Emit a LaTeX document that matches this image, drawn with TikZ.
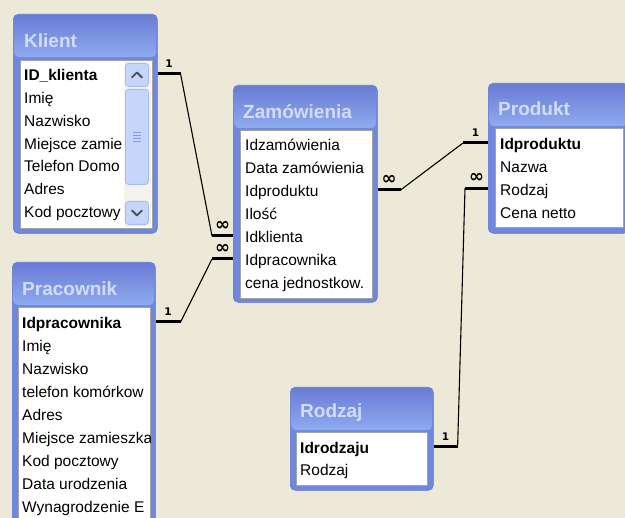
\documentclass[tikz,border=0pt]{standalone}
\usepackage{fontspec}
\setmainfont{Liberation Sans}
\newfontfamily\cardfont{DejaVu Sans}
\usetikzlibrary{positioning, calc}

\definecolor{xpbg}{HTML}{ECE9D8}
\definecolor{xpframe}{HTML}{6F87DD}
\definecolor{xpedge}{HTML}{5E74CF}
\definecolor{xptitletop}{HTML}{6A7CD6}
\definecolor{xptitlebot}{HTML}{8EABEF}
\definecolor{xptitletext}{HTML}{D3DCF6}
\definecolor{xplistedge}{HTML}{A3A2A6}
\definecolor{xpbutton}{HTML}{C6D6FB}
\definecolor{xpbuttonedge}{HTML}{A5BCF2}
\definecolor{xptrack}{HTML}{F4F3EE}

\begin{document}
\begin{tikzpicture}[
    x=1pt, y=-1pt,
    % Styles
    box/.style={ % Table window
        rectangle,
        anchor=north west,
        rounded corners=5pt,
        fill=xpframe,
        draw=xpedge,
        line width=0.6pt,
        inner sep=0pt
    },
    titlebar/.style={ % Window title band
        rectangle,
        anchor=north west,
        rounded corners=5pt,
        top color=xptitletop,
        bottom color=xptitlebot,
        minimum height=42pt,
        inner sep=0pt
    },
    tabletitle/.style={
        anchor=west,
        inner sep=0pt,
        text=xptitletext,
        font=\fontsize{19}{22}\selectfont\bfseries
    },
    list/.style={ % White field list
        rectangle,
        anchor=north west,
        fill=white,
        draw=xplistedge,
        line width=1pt,
        inner sep=0pt
    },
    field/.style={
        anchor=west,
        inner sep=0pt,
        text height=11pt,
        text depth=3pt,
        font=\fontsize{15.5}{18}\selectfont
    },
    keyfield/.style={
        field,
        font=\fontsize{15.5}{18}\selectfont\bfseries
    },
    button/.style={ % Scrollbar parts
        rectangle,
        anchor=north west,
        rounded corners=3pt,
        fill=xpbutton,
        draw=xpbuttonedge,
        line width=0.8pt,
        inner sep=0pt
    },
    chevron/.style={
        draw=black!70,
        line width=1.8pt,
        line cap=round,
        line join=round
    },
    stub/.style={ % Thick end of a relation
        line width=3pt
    },
    link/.style={
        line width=1.1pt
    },
    one/.style={
        inner sep=0pt,
        text height=7.5pt,
        text depth=0pt,
        font=\cardfont\fontsize{10.5}{11}\selectfont\bfseries
    },
    many/.style={
        inner sep=0pt,
        text height=6pt,
        text depth=0pt,
        font=\cardfont\fontsize{18}{19}\selectfont\bfseries
    }
]

    % Background
    \path [use as bounding box, fill=xpbg] (0,0) rectangle (625,518);
    \clip (0,0) rectangle (625,518);

    % Klient
    \node at (13,14) [box, minimum width=144pt, minimum height=219pt] (klient_box) {};
    \node at (14,15) [titlebar, minimum width=142pt] (klient_bar) {};
    \node at (24,41) [tabletitle] (klient_title) {Klient};
    \node at (20,60) [list, minimum width=132pt, minimum height=168pt] (klient_list) {};
    \begin{scope}
        \clip (20,60) rectangle (124,228);
        \node at (24,77) [keyfield] (klient_1) {ID\_klienta};
        \foreach \f [count=\i from 2] in {Imię, Nazwisko, Miejsce zamie, Telefon Domo, Adres, Kod pocztowy}
            \node at (24, {77+22.7*(\i-1)}) [field] (klient_\i) {\f};
    \end{scope}

    % Klient scrollbar
    \fill [xptrack] (124,61) rectangle (151,227);
    \node at (125,63) [button, minimum width=23pt, minimum height=23pt] (klient_up) {};
    \node at (125,89) [button, minimum width=23pt, minimum height=95pt] (klient_thumb) {};
    \node at (125,201) [button, minimum width=23pt, minimum height=23pt] (klient_down) {};
    \draw [chevron] ($(klient_up.center)+(-5,2.5)$) -- ++(5,-5) -- ++(5,5);
    \draw [chevron] ($(klient_down.center)+(-5,-2.5)$) -- ++(5,5) -- ++(5,-5);
    \foreach \g in {-4.5,-1.5,1.5,4.5}
        \draw [xpbuttonedge!80!blue, line width=0.8pt] ($(klient_thumb.center)+(-4,\g)$) -- ++(8,0);

    % Zamowienia
    \node at (233,85) [box, minimum width=144pt, minimum height=217pt] (zam_box) {};
    \node at (234,86) [titlebar, minimum width=142pt] (zam_bar) {};
    \node at (243,112) [tabletitle] (zam_title) {Zamówienia};
    \node at (240,130) [list, minimum width=132pt, minimum height=168pt] (zam_list) {};
    \begin{scope}
        \clip (240,130) rectangle (372,298);
        \foreach \f [count=\i] in {Idzamówienia, Data zamówienia, Idproduktu, Ilość, Idklienta, Idpracownika, cena jednostkow.}
            \node at (245, {147+23*(\i-1)}) [field] (zam_\i) {\f};
    \end{scope}

    % Produkt
    \node at (488,83) [box, minimum width=140pt, minimum height=150pt] (produkt_box) {};
    \node at (489,84) [titlebar, minimum width=138pt] (produkt_bar) {};
    \node at (498,109) [tabletitle] (produkt_title) {Produkt};
    \node at (495,128) [list, minimum width=128pt, minimum height=99pt] (produkt_list) {};
    \begin{scope}
        \clip (495,128) rectangle (623,227);
        \node at (500,146) [keyfield] (produkt_1) {Idproduktu};
        \foreach \f [count=\i from 2] in {Nazwa, Rodzaj, Cena netto}
            \node at (500, {146+22.7*(\i-1)}) [field] (produkt_\i) {\f};
    \end{scope}

    % Pracownik
    \node at (12,262) [box, minimum width=143pt, minimum height=280pt] (pracownik_box) {};
    \node at (13,263) [titlebar, minimum width=141pt] (pracownik_bar) {};
    \node at (22,289) [tabletitle] (pracownik_title) {Pracownik};
    \node at (18,307) [list, minimum width=132pt, minimum height=240pt] (pracownik_list) {};
    \begin{scope}
        \clip (18,307) rectangle (150,518);
        \node at (22,325) [keyfield] (pracownik_1) {Idpracownika};
        \foreach \f [count=\i from 2] in {Imię, Nazwisko, telefon komórkow, Adres, Miejsce zamieszka, Kod pocztowy, Data urodzenia, Wynagrodzenie E}
            \node at (22, {325+23*(\i-1)}) [field] (pracownik_\i) {\f};
    \end{scope}

    % Rodzaj
    \node at (290,387) [box, minimum width=143pt, minimum height=103pt] (rodzaj_box) {};
    \node at (291,388) [titlebar, minimum width=141pt] (rodzaj_bar) {};
    \node at (300,413) [tabletitle] (rodzaj_title) {Rodzaj};
    \node at (296,432) [list, minimum width=131pt, minimum height=53pt] (rodzaj_list) {};
    \node at (300,450) [keyfield] (rodzaj_1) {Idrodzaju};
    \node at (300,472) [field] (rodzaj_2) {Rodzaj};

    % Klient -> Zamowienia
    \draw [stub] ($(klient_box.east |- klient_1)+(0,-3)$) -- ++(23,0)
        node [one, midway, above=5pt] (klient_one) {1} coordinate (klient_bend);
    \draw [stub] ($(zam_box.west |- zam_5)+(0,-3)$) -- ++(-21,0)
        node [many, midway, above=4pt] (zam_many_k) {∞} coordinate (zam_bend_k);
    \draw [link] (klient_bend) -- (zam_bend_k);

    % Pracownik -> Zamowienia
    \draw [stub] ($(pracownik_box.east |- pracownik_1)+(0,-3)$) -- ++(25,0)
        node [one, midway, above=5pt] (pracownik_one) {1} coordinate (pracownik_bend);
    \draw [stub] ($(zam_box.west |- zam_6)+(0,-3)$) -- ++(-21,0)
        node [many, midway, above=4pt] (zam_many_p) {∞} coordinate (zam_bend_p);
    \draw [link] (pracownik_bend) -- (zam_bend_p);

    % Produkt -> Zamowienia
    \draw [stub] ($(produkt_box.west |- produkt_1)+(0,-3)$) -- ++(-25,0)
        node [one, midway, above=5pt] (produkt_one) {1} coordinate (produkt_bend);
    \draw [stub] ($(zam_box.east |- zam_3)+(0,-3)$) -- ++(23,0)
        node [many, midway, above=4pt] (zam_many_pr) {∞} coordinate (zam_bend_pr);
    \draw [link] (produkt_bend) -- (zam_bend_pr);

    % Rodzaj -> Produkt
    \draw [stub] ($(rodzaj_box.east |- rodzaj_1)+(0,-3)$) -- ++(24,0)
        node [one, midway, above=5pt] (rodzaj_one) {1} coordinate (rodzaj_bend);
    \draw [stub] ($(produkt_box.west |- produkt_3)+(0,-3)$) -- ++(-23,0)
        node [many, midway, above=4pt] (produkt_many) {∞} coordinate (produkt_bend_r);
    \draw [link] (rodzaj_bend) -- (produkt_bend_r);
\end{tikzpicture}
\end{document}
